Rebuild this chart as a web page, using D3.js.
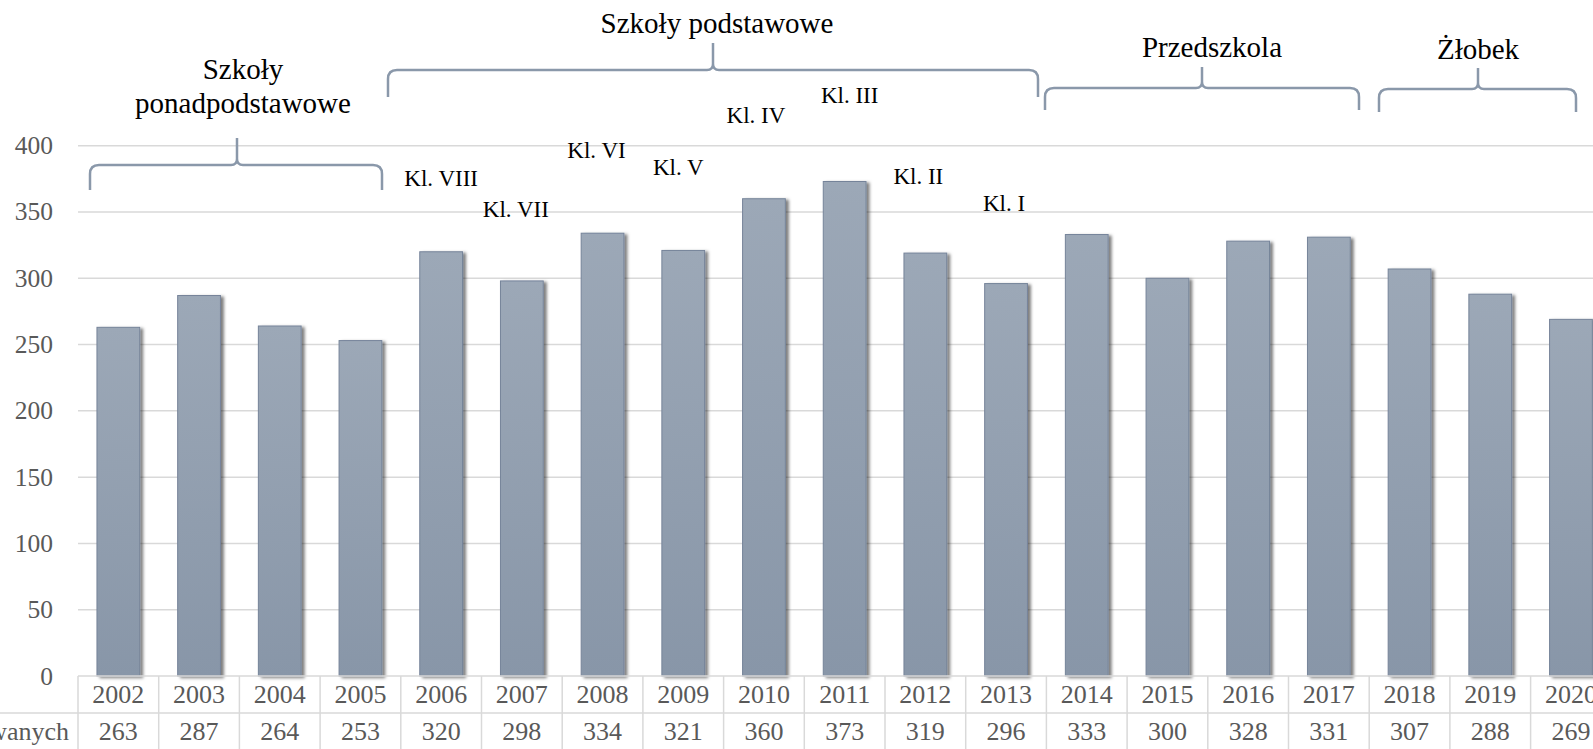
<!DOCTYPE html>
<meta charset="utf-8">
<script src="https://d3js.org/d3.v7.min.js"></script>
<style>
  body { margin: 0; background: #fff; }
</style>
<div id="chart"></div>
<script>

// data
const years = ["2002","2003","2004","2005","2006","2007","2008","2009","2010","2011",
               "2012","2013","2014","2015","2016","2017","2018","2019","2020"];
const births = [263, 287, 264, 253, 320, 298, 334, 321, 360, 373, 319, 296, 333, 300, 328, 331, 307, 288, 269];
const rowLabel = "Liczba urodzeń zarejestrowanych";
const yTicks = [0, 50, 100, 150, 200, 250, 300, 350, 400];

// class labels above the primary school years
const classYears = ["2006","2007","2008","2009","2010","2011","2012","2013"];
const classNames = ["Kl. VIII","Kl. VII","Kl. VI","Kl. V","Kl. IV","Kl. III","Kl. II","Kl. I"];

// school groups
const groupNames = [["Szkoły", "ponadpodstawowe"], ["Szkoły podstawowe"], ["Przedszkola"], ["Żłobek"]];

// ---- layout (pixels) ----
const W = 1593, H = 749;
const FONT = "Liberation Serif";
const left = 78, step = 80.7;
const zeroY = 676, topY = 145.7;
const classLift = [66, 64, 75, 75, 76, 78, 69, 73];
const classShift = [0, -6, -6, -5, -8, 5, -7, -2];
// brace: x1, x2, tip x, tip y, horizontal y, end y, label x, label baselines
const braces = [
  {x1: 90,   x2: 382,  xm: 237,  yt: 138, yh: 165, ye: 190, lx: 243, ly: [79, 113]},
  {x1: 388,  x2: 1038, xm: 713,  yt: 43,  yh: 70,  ye: 97,  lx: 717, ly: [33]},
  {x1: 1045, x2: 1359, xm: 1202, yt: 67,  yh: 88,  ye: 110, lx: 1212, ly: [57]},
  {x1: 1379, x2: 1576, xm: 1478, yt: 68,  yh: 89,  ye: 112, lx: 1478, ly: [59]}
];

const svg = d3.select("#chart").append("svg")
  .attr("width", W)
  .attr("height", H);

const defs = svg.append("defs");
const grad = defs.append("linearGradient")
  .attr("id", "barGrad").attr("x1", 0).attr("y1", 0).attr("x2", 0).attr("y2", 1);
grad.append("stop").attr("offset", "0%").attr("stop-color", "#9ca8b7");
grad.append("stop").attr("offset", "100%").attr("stop-color", "#8896a8");

const shadow = defs.append("filter").attr("id", "shadow")
  .attr("x", "-20%").attr("y", "-10%").attr("width", "150%").attr("height", "130%");
shadow.append("feDropShadow")
  .attr("dx", 3).attr("dy", 1.5).attr("stdDeviation", 1.6)
  .attr("flood-color", "#000").attr("flood-opacity", 0.5);

// scales
const xCell = d3.scaleBand()
  .domain(years)
  .range([left, left + step * years.length]);

const x = d3.scaleBand()
  .domain(years)
  .range([left, left + step * years.length])
  .paddingInner(0.47)
  .paddingOuter(0.235);

const y = d3.scaleLinear()
  .domain([0, 400])
  .range([zeroY, topY]);

// gridlines
svg.append("g")
  .selectAll("line")
  .data(yTicks.filter(d => d > 0))
  .join("line")
    .attr("x1", left).attr("x2", W)
    .attr("y1", d => y(d)).attr("y2", d => y(d))
    .attr("stroke", "#d9d9d9")
    .attr("stroke-width", 1.5);

// y axis labels
svg.append("g")
  .selectAll("text")
  .data(yTicks)
  .join("text")
    .attr("x", 53)
    .attr("y", d => y(d) + 8.5)
    .attr("text-anchor", "end")
    .attr("font-family", FONT)
    .attr("font-size", 25.5)
    .attr("fill", "#595959")
    .text(d => d);

// bars
svg.append("g")
  .selectAll("rect")
  .data(births)
  .join("rect")
    .attr("x", (d, i) => x(years[i]))
    .attr("y", d => y(d))
    .attr("width", x.bandwidth())
    .attr("height", d => zeroY - y(d))
    .attr("fill", "url(#barGrad)")
    .attr("stroke", "#76849a")
    .attr("stroke-width", 1)
    .attr("filter", "url(#shadow)");

// data table
const table = svg.append("g");
table.append("line")
  .attr("x1", left).attr("x2", W)
  .attr("y1", zeroY).attr("y2", zeroY)
  .attr("stroke", "#d9d9d9").attr("stroke-width", 1.5);
table.append("line")
  .attr("x1", 0).attr("x2", W)
  .attr("y1", 713).attr("y2", 713)
  .attr("stroke", "#d9d9d9").attr("stroke-width", 1.5);
table.selectAll("line.v")
  .data(years)
  .join("line")
    .attr("class", "v")
    .attr("x1", d => xCell(d)).attr("x2", d => xCell(d))
    .attr("y1", zeroY).attr("y2", H)
    .attr("stroke", "#d9d9d9").attr("stroke-width", 1.5);
table.selectAll("text.year")
  .data(years)
  .join("text")
    .attr("class", "year")
    .attr("x", d => xCell(d) + xCell.bandwidth() / 2)
    .attr("y", 703)
    .attr("text-anchor", "middle")
    .attr("font-family", FONT)
    .attr("font-size", 26)
    .attr("fill", "#595959")
    .text(d => d);
table.selectAll("text.val")
  .data(births)
  .join("text")
    .attr("class", "val")
    .attr("x", (d, i) => xCell(years[i]) + xCell.bandwidth() / 2)
    .attr("y", 740)
    .attr("text-anchor", "middle")
    .attr("font-family", FONT)
    .attr("font-size", 26)
    .attr("fill", "#595959")
    .text(d => d);
table.append("text")
  .attr("x", 69)
  .attr("y", 740)
  .attr("text-anchor", "end")
  .attr("font-family", FONT)
  .attr("font-size", 26)
  .attr("fill", "#595959")
  .text(rowLabel);

// class labels
svg.append("g")
  .selectAll("text")
  .data(classNames)
  .join("text")
    .attr("x", (d, i) => x(classYears[i]) + x.bandwidth() / 2 + classShift[i])
    .attr("y", (d, i) => y(births[years.indexOf(classYears[i])]) - classLift[i])
    .attr("text-anchor", "middle")
    .attr("font-family", FONT)
    .attr("font-size", 23)
    .attr("fill", "#000")
    .text(d => d);

// braces
function bracePath(b) {
  const r = 9, c = 6;
  return `M${b.x1},${b.ye} L${b.x1},${b.yh + r} Q${b.x1},${b.yh} ${b.x1 + r},${b.yh}` +
    ` L${b.xm - c},${b.yh} Q${b.xm},${b.yh} ${b.xm},${b.yh - c} L${b.xm},${b.yt}` +
    ` M${b.xm},${b.yh - c} Q${b.xm},${b.yh} ${b.xm + c},${b.yh}` +
    ` L${b.x2 - r},${b.yh} Q${b.x2},${b.yh} ${b.x2},${b.yh + r} L${b.x2},${b.ye}`;
}

const groups = svg.append("g");
groups.selectAll("path")
  .data(braces)
  .join("path")
    .attr("d", bracePath)
    .attr("fill", "none")
    .attr("stroke", "#8a98aa")
    .attr("stroke-width", 2.5);

braces.forEach((b, i) => {
  groupNames[i].forEach((line, j) => {
    groups.append("text")
      .attr("x", b.lx)
      .attr("y", b.ly[j])
      .attr("text-anchor", "middle")
      .attr("font-family", FONT)
      .attr("font-size", 29)
      .attr("fill", "#000")
      .text(line);
  });
});

</script>
